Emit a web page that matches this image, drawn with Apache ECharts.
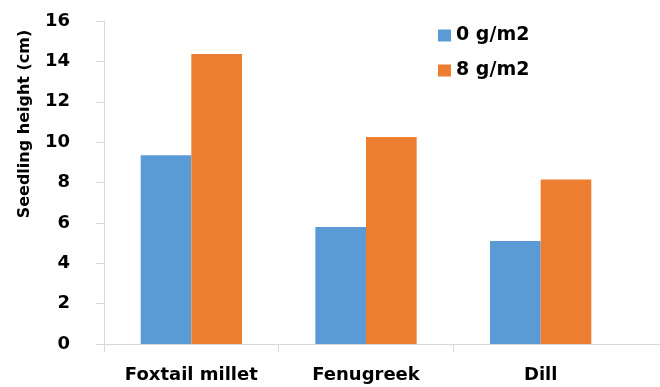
<!DOCTYPE html>
<html>
<head>
<meta charset="utf-8">
<script src="https://cdn.jsdelivr.net/npm/echarts@6/dist/echarts.min.js"></script>
<style>html,body{margin:0;padding:0;background:#fff}#c{width:660px;height:387px}</style>
</head>
<body>
<div id="c"></div>
<script>
const categories = ['Foxtail millet', 'Fenugreek', 'Dill'];
const seriesNames = ['0 g/m2', '8 g/m2'];
const values0 = [9.35, 5.8, 5.1];
const values8 = [14.37, 10.25, 8.15];
const yTicks = [0, 2, 4, 6, 8, 10, 12, 14, 16];
const yAxisTitle = 'Seedling height (cm)';

const FONT = 'DejaVu Sans';
const chart = echarts.init(document.getElementById('c'), null, {renderer: 'canvas'});
chart.setOption({
  animation: false,
  backgroundColor: '#fff',
  grid: {left: 104, right: 32, top: 21, bottom: 43, containLabel: false},
  legend: {
    orient: 'vertical', left: 433, top: 21, itemWidth: 13, itemHeight: 12, itemGap: 16,
    icon: 'rect',
    textStyle: {fontFamily: FONT, fontWeight: 'bold', fontSize: 19, color: '#000'},
    data: seriesNames
  },
  xAxis: {
    type: 'category', data: categories,
    axisLine: {show: true, lineStyle: {color: '#d9d9d9', width: 1}},
    axisTick: {show: true, length: 8, alignWithLabel: false, lineStyle: {color: '#d9d9d9'}},
    axisLabel: {margin: 22, fontFamily: FONT, fontWeight: 'bold', fontSize: 18, color: '#000'}
  },
  yAxis: {
    type: 'value', min: yTicks[0], max: yTicks[yTicks.length - 1], interval: yTicks[1] - yTicks[0],
    axisLine: {show: true, lineStyle: {color: '#d9d9d9', width: 1}},
    axisTick: {show: true, length: 8, lineStyle: {color: '#d9d9d9'}},
    splitLine: {show: false},
    axisLabel: {margin: 34, fontFamily: FONT, fontWeight: 'bold', fontSize: 18, color: '#000'}
  },
  graphic: [
    {type: 'text', x: 25, y: 124, rotation: Math.PI / 2,
     style: {text: yAxisTitle, fontFamily: FONT, fontWeight: 'bold', fontSize: 16, fill: '#000',
             align: 'center', verticalAlign: 'middle'}},
    {type: 'rect', z: 100, shape: {x: 625, y: 345, width: 6, height: 10}, style: {fill: '#fff'}},
    {type: 'line', z: 101, shape: {x1: 620, y1: 344.5, x2: 660, y2: 344.5}, style: {stroke: '#d9d9d9', lineWidth: 1}}
  ],
  series: [
    {name: seriesNames[0], type: 'bar', data: values0, barGap: '0%', barCategoryGap: '42%',
     itemStyle: {color: '#5B9BD5'}},
    {name: seriesNames[1], type: 'bar', data: values8, barGap: '0%', barCategoryGap: '42%',
     itemStyle: {color: '#ED7D31'}}
  ]
});
</script>
</body>
</html>
